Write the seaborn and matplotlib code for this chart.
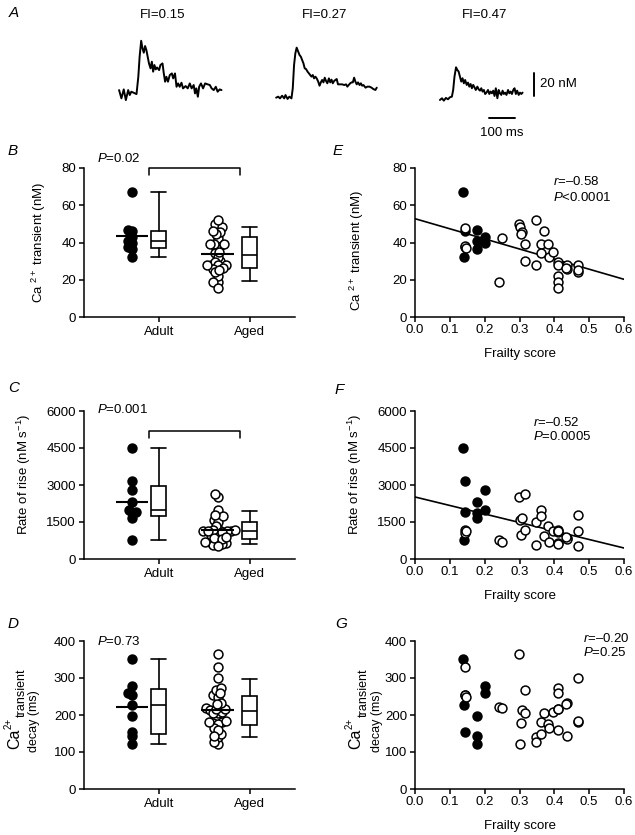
"""
Ca2+ transients in adult and aged mice vs frailty score.
"""

import numpy as np
import matplotlib
matplotlib.use("Agg")
import matplotlib.pyplot as plt
import seaborn as sns

# panel A: example transients (ms, nM above baseline)
trace1_t = [0, 9, 18, 26, 35, 41, 47, 56, 67, 74, 79, 85, 90, 95, 100, 105, 110, 115, 121, 126,
            131, 136, 141, 146, 154, 159, 167, 172, 177, 182, 188, 195, 203, 208, 215, 221, 227, 233, 240, 246,
            256, 264, 272, 279, 287, 292, 297, 303, 308, 315, 323, 331, 338, 349, 356, 364, 372, 379, 387, 394]
trace1_ca = [2.3, -4.9, 2.9, -6.4, 2.3, -2.0, 0.9, 0, -1.2, 13.9, 31.3, 45.2, 38.6, 34.8, 40.6, 37.1, 31.3, 25.5, 21.2, 27.0,
             18.3, 24.1, 20.3, 22.0, 19.7, 24.1, 25.5, 16.8, 9.6, 13.9, 9.6, 15.4, 16.8, 12.5, 16.8, 5.2, 8.1, 5.2, 8.7, 3.8,
             5.8, 3.8, 8.1, 3.8, 6.7, -0.6, 3.8, -3.5, 5.2, 8.1, 3.8, 8.1, 7.5, 6.7, 3.8, 2.3, 5.2, 0.9, 2.9, 2.3]

trace2_t = [0, 8, 15, 23, 31, 36, 44, 51, 59, 64, 69, 74, 79, 85, 90, 95, 100, 105, 110, 115,
            121, 126, 131, 136, 141, 146, 151, 156, 162, 167, 172, 177, 182, 187, 192, 197, 203, 208, 213, 218,
            223, 228, 233, 238, 246, 254, 262, 269, 274, 279, 285, 290, 295, 300, 305, 310, 315, 321, 326, 331,
            336, 344, 351, 359, 367, 374, 382, 387]
trace2_ca = [-0.3, 0.6, -0.9, 1.4, -0.9, 2.0, -1.4, 0.6, -0.9, 7.8, 28.1, 38.3, 43.2, 39.7, 36.8, 35.4, 32.5, 29.6, 25.2, 24.6,
             22.3, 20.9, 19.4, 18.0, 19.4, 16.5, 18.0, 16.5, 13.6, 10.1, 13.0, 15.1, 13.0, 17.1, 14.2, 12.2, 16.5, 13.0, 15.4, 12.2,
             14.2, 15.1, 15.9, 11.3, 11.3, 11.3, 10.7, 11.3, 9.3, 10.7, 12.2, 13.0, 13.0, 17.1, 13.6, 11.3, 13.0, 10.7, 12.2, 10.1,
             10.7, 8.4, 9.3, 9.3, 8.4, 7.2, 6.4, 8.4]

trace3_t = [0, 8, 15, 23, 31, 38, 46, 51, 56, 62, 67, 72, 77, 82, 87, 92, 97, 103, 108, 113,
            118, 123, 128, 133, 138, 144, 149, 154, 159, 164, 169, 174, 179, 185, 190, 195, 200, 205, 210, 215,
            221, 226, 231, 236, 241, 246, 251, 256, 262, 267, 272, 277, 282, 287, 292, 297, 303, 308, 313, 318]
trace3_ca = [-0.6, 0.9, -1.2, 1.2, 0, 1.7, 2.3, 8.1, 19.7, 27.8, 25.5, 24.1, 19.7, 15.4, 18.3, 13.9, 16.8, 12.5, 14.5, 11.0,
             13.3, 9.6, 12.5, 10.4, 8.1, 11.0, 8.7, 7.5, 9.6, 6.7, 8.1, 4.6, 5.8, 8.1, 4.6, 6.7, 5.2, 7.5, 2.9, 9.6,
             0.9, 8.1, 5.2, 3.8, 7.5, 4.6, 5.8, 3.8, 8.1, 5.2, 6.7, 4.6, 8.1, 9.6, 4.6, 7.5, 3.8, 5.8, 4.6, 5.8]
fi_titles = ["FI=0.15", "FI=0.27", "FI=0.47"]

# one entry per mouse
adult_fi = [0.137, 0.141, 0.144, 0.144, 0.177, 0.177, 0.177, 0.200, 0.200]
adult_amp = [67.0, 32.0, 46.0, 37.7, 46.8, 41.0, 36.5, 42.8, 40.0]
adult_rise = [4500, 780, 3150, 1900, 2300, 1860, 1650, 2800, 1995]
adult_decay = [351, 227, 155, 255, 196, 142, 122, 279, 259]

aged_fi = [0.144, 0.144, 0.146, 0.241, 0.250, 0.299, 0.300, 0.306, 0.304, 0.316,
           0.315, 0.347, 0.346, 0.362, 0.362, 0.371, 0.383, 0.386, 0.395, 0.410,
           0.411, 0.410, 0.411, 0.410, 0.435, 0.437, 0.433, 0.469, 0.467, 0.469]
aged_amp = [48.0, 38.3, 36.9, 18.9, 42.3, 50.0, 48.2, 45.9, 44.5, 39.0,
            30.0, 52.2, 27.9, 39.0, 34.2, 46.2, 39.2, 32.4, 35.1, 29.7,
            27.9, 21.9, 18.9, 15.6, 27.9, 25.7, 26.5, 27.9, 23.9, 25.0]
aged_rise = [1186, 1051, 1120, 782, 674, 2507, 1590, 1658, 984, 2642,
             1186, 1483, 580, 1968, 1725, 943, 1321, 687, 1119, 1186,
             1078, 1130, 647, 610, 849, 800, 880, 1792, 1119, 539]
aged_decay = [331, 253, 250, 221, 218, 365, 122, 214, 178, 267,
              205, 140, 128, 180, 149, 205, 176, 165, 209, 272,
              260, 217, 160, 215, 232, 144, 230, 301, 182, 185]

group_p = ["$P$=0.02", "$P$=0.001", "$P$=0.73"]
corr_r = ["$r$=\u20130.58", "$r$=\u20130.52", "$r$=\u20130.20"]
corr_p = ["$P$<0.0001", "$P$=0.0005", "$P$=0.25"]

W, H = 635, 835
ADULT_DOTS, ADULT_BOX = 0.527, 0.824
AGED_DOTS, AGED_BOX = 1.47, 1.824
DOT = 6.4          # drawn marker size (pt)
PACK = 2.0         # marker size used to pack the swarm, so dots overlap like Prism

swarms = []


def fx(px):
    return px / W


def fy(py):
    return 1 - py / H


def box_stats(vals):
    q = np.percentile(vals, [10, 25, 50, 75, 90], method="weibull")
    return dict(whislo=q[0], q1=q[1], med=q[2], q3=q[3], whishi=q[4], fliers=[])


def style(ax, pad):
    sns.despine(ax=ax)
    ax.tick_params(length=3.8, width=1.1, labelsize=9.5, color="black")
    ax.tick_params(axis="x", pad=pad)
    ax.tick_params(axis="y", pad=2)


def group_panel(ax, adult, aged, ymax, yticks, p_txt, p_y, bracket):
    ax.set_xlim(0, 2.319)
    ax.set_ylim(0, ymax)
    for vals, xpos, face in ((adult, ADULT_DOTS, "black"), (aged, AGED_DOTS, "white")):
        sns.swarmplot(x=np.full(len(vals), xpos), y=vals, native_scale=True, orient="x",
                      color=face, edgecolor="black", linewidth=1.1, size=PACK, ax=ax, zorder=3)
        swarms.append(ax.collections[-1])
        ax.hlines(np.mean(vals), xpos - 0.18, xpos + 0.18, color="black", lw=1.5, zorder=4)
    line = dict(color="black", linewidth=1.2)
    ax.bxp([box_stats(adult), box_stats(aged)], positions=[ADULT_BOX, AGED_BOX],
           widths=0.165, capwidths=0.165, showfliers=False, patch_artist=True,
           boxprops=dict(facecolor="white", edgecolor="black", linewidth=1.2),
           medianprops=line, whiskerprops=line, capprops=line, manage_ticks=False)
    if bracket is not None:
        lo, hi = bracket
        ax.plot([0.714, 0.714, 1.714, 1.714], [lo, hi, hi, lo], color="black",
                lw=1.1, clip_on=False)
    ax.text(0.143, p_y, p_txt, ha="left", va="center", fontsize=9.5, clip_on=False)
    ax.set_xlim(0, 2.319)
    ax.set_ylim(0, ymax)
    ax.set_xticks([ADULT_BOX, AGED_BOX], ["Adult", "Aged"])
    ax.set_yticks(yticks)
    ax.set_xlabel("")
    style(ax, 2.5)


def corr_panel(ax, adult, aged, ymax, yticks, r_txt, p_txt, txt_x, txt_y, fit):
    ax.set_xlim(0, 0.6)
    ax.set_ylim(0, ymax)
    if fit:
        sns.regplot(x=np.array(adult_fi + aged_fi), y=np.array(adult + aged), scatter=False,
                    ci=None, truncate=False, color="black", line_kws=dict(lw=1.2), ax=ax)
    sns.scatterplot(x=adult_fi, y=adult, color="black", edgecolor="black", s=DOT ** 2,
                    linewidth=1.1, ax=ax, zorder=3)
    sns.scatterplot(x=aged_fi, y=aged, color="white", edgecolor="black", s=DOT ** 2,
                    linewidth=1.1, ax=ax, zorder=4)
    ax.text(txt_x, txt_y[0], r_txt, ha="left", va="center", fontsize=9.5, clip_on=False)
    ax.text(txt_x, txt_y[1], p_txt, ha="left", va="center", fontsize=9.5, clip_on=False)
    ax.set_xlim(0, 0.6)
    ax.set_ylim(0, ymax)
    ax.set_xticks(np.arange(0, 0.61, 0.1), [f"{v:.1f}" for v in np.arange(0, 0.61, 0.1)])
    ax.set_yticks(yticks)
    ax.set_xlabel("Frailty score", fontsize=9.5)
    ax.xaxis.set_label_coords(0.5, -0.207)
    ax.set_ylabel("")
    style(ax, 1.5)


def decay_label(x_ca, x_l1, x_l2):
    fig.text(fx(x_ca), fy(739), "Ca", fontsize=11.5, rotation=90, ha="center", va="center")
    fig.text(fx(x_ca - 6), fy(723), "2+", fontsize=7, rotation=90, ha="center", va="center")
    fig.text(fx(x_l1), fy(693), "transient", fontsize=9, rotation=90, ha="center", va="center")
    fig.text(fx(x_l2), fy(721), "decay (ms)", fontsize=9, rotation=90, ha="center", va="center")


sns.set_style("ticks", {"axes.edgecolor": "black", "xtick.color": "black",
                        "ytick.color": "black", "text.color": "black",
                        "axes.labelcolor": "black"})
plt.rcParams["font.family"] = ["Liberation Sans", "DejaVu Sans"]
plt.rcParams["mathtext.fontset"] = "custom"
plt.rcParams["mathtext.rm"] = "Liberation Sans"
plt.rcParams["mathtext.it"] = "Liberation Sans:italic"
plt.rcParams["font.size"] = 9.5
plt.rcParams["axes.linewidth"] = 1.1

fig = plt.figure(figsize=(W / 100, H / 100), dpi=100)

# panel A, 0.26 px per ms and 1.15 px per nM
ax_a = fig.add_axes([0, fy(140), 1, 110 / H])
ax_a.set_xlim(0, W / 0.26)
ax_a.set_ylim(0, 110 / 1.15)
ax_a.axis("off")
for t, ca, t0, base in ((trace1_t, trace1_ca, 458, 41.1),
                        (trace2_t, trace2_ca, 1062, 37.1),
                        (trace3_t, trace3_ca, 1692, 35.4)):
    sns.lineplot(x=np.array(t) + t0, y=np.array(ca) + base, color="black", lw=1.4,
                 ax=ax_a, estimator=None, sort=False)
ax_a.plot([2054, 2054], [38.3, 58.3], color="black", lw=1.4)
ax_a.plot([1881, 1981], [19.1, 19.1], color="black", lw=1.4)
ax_a.text(2077, 48.3, "20 nM", ha="left", va="center", fontsize=9.5)
ax_a.text(1931, 6.1, "100 ms", ha="center", va="center", fontsize=9.5)
for title, x in zip(fi_titles, (163, 325, 485)):
    fig.text(fx(x), fy(15), title, ha="center", va="center", fontsize=9.5)

left_x, left_w = fx(84), 211 / W
right_x, right_w = fx(415), 209 / W
rows = [(317, 149), (559, 148), (789, 148)]

ax_b = fig.add_axes([left_x, fy(rows[0][0]), left_w, rows[0][1] / H])
ax_c = fig.add_axes([left_x, fy(rows[1][0]), left_w, rows[1][1] / H])
ax_d = fig.add_axes([left_x, fy(rows[2][0]), left_w, rows[2][1] / H])
ax_e = fig.add_axes([right_x, fy(rows[0][0]), right_w, rows[0][1] / H])
ax_f = fig.add_axes([right_x, fy(rows[1][0]), right_w, rows[1][1] / H])
ax_g = fig.add_axes([right_x, fy(rows[2][0]), right_w, rows[2][1] / H])

group_panel(ax_b, adult_amp, aged_amp, 80, [0, 20, 40, 60, 80], group_p[0], 85.3, (76, 80))
group_panel(ax_c, adult_rise, aged_rise, 6000, [0, 1500, 3000, 4500, 6000], group_p[1], 6060, (4900, 5200))
group_panel(ax_d, adult_decay, aged_decay, 400, [0, 100, 200, 300, 400], group_p[2], 398, None)

corr_panel(ax_e, adult_amp, aged_amp, 80, [0, 20, 40, 60, 80], corr_r[0], corr_p[0],
           0.396, (72.5, 64.4), True)
corr_panel(ax_f, adult_rise, aged_rise, 6000, [0, 1500, 3000, 4500, 6000], corr_r[1], corr_p[1],
           0.339, (5554, 4946), True)
corr_panel(ax_g, adult_decay, aged_decay, 400, [0, 100, 200, 300, 400], corr_r[2], corr_p[2],
           0.482, (408, 368), False)

ax_b.set_ylabel("Ca $^{2+}$ transient (nM)", fontsize=9.5)
ax_b.yaxis.set_label_coords(-0.17, 0.5)
ax_c.set_ylabel("Rate of rise (nM s$^{-1}$)", fontsize=9.5)
ax_c.yaxis.set_label_coords(-0.24, 0.574)
ax_e.set_ylabel("Ca $^{2+}$ transient (nM)", fontsize=9.5)
ax_e.yaxis.set_label_coords(-0.235, 0.45)
ax_f.set_ylabel("Rate of rise (nM s$^{-1}$)", fontsize=9.5)
ax_f.yaxis.set_label_coords(-0.245, 0.574)
ax_d.set_ylabel("")
decay_label(15, 22, 34)
decay_label(356, 364, 377)

for letter, x, y in (("A", 9, 13), ("B", 8, 151), ("C", 8, 388), ("D", 8, 624),
                     ("E", 333, 151), ("F", 335, 390), ("G", 335, 624)):
    fig.text(fx(x), fy(y), letter, ha="left", va="center", fontsize=11, style="italic")

# pack the swarms with small markers, then freeze them and draw at full size
fig.canvas.draw()
for pts in swarms:
    del pts.draw
    pts.set_sizes([DOT ** 2])

fig.savefig("out.png", dpi=100)
